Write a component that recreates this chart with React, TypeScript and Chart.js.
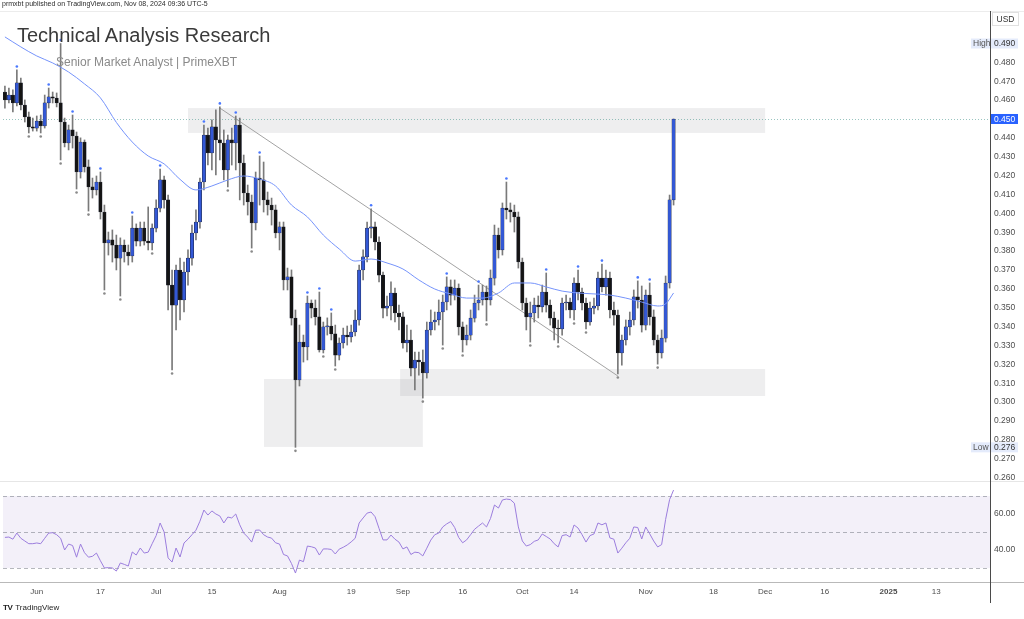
import React, { useEffect, useRef } from "react";
import { Chart, registerables } from "chart.js";

Chart.register(...registerables);

const FONT = '"Liberation Sans", Arial, sans-serif';

// ---- Daily candles, May 24 2024 (index 0) .. Nov 08 2024 (index 168) ----
const FIRST_OPEN = 0.4643;
const CLOSE = [
  0.4601, 0.4627, 0.4585, 0.4691, 0.4574, 0.4511, 0.4458, 0.4452, 0.4489, 0.4463,
  0.4585, 0.4617, 0.4611, 0.4585, 0.4484, 0.4373, 0.4442, 0.441, 0.4219, 0.4378,
  0.4246, 0.414, 0.4124, 0.4166, 0.4007, 0.3843, 0.3859, 0.3832, 0.3763, 0.3832,
  0.3795, 0.3774, 0.3922, 0.3853, 0.3922, 0.3853, 0.3843, 0.3922, 0.4028, 0.4177,
  0.4071, 0.362, 0.3514, 0.37, 0.3541, 0.3689, 0.3763, 0.3896, 0.3954, 0.4166,
  0.4415, 0.432, 0.4458, 0.4389, 0.4373, 0.423, 0.4389, 0.4373, 0.4468, 0.4267,
  0.4108, 0.406, 0.3949, 0.4187, 0.4177, 0.4071, 0.4044, 0.4018, 0.3896, 0.3928,
  0.3647, 0.3663, 0.3445, 0.3117, 0.3318, 0.3292, 0.3525, 0.3498, 0.3451, 0.3276,
  0.3398, 0.3403, 0.3361, 0.3249, 0.3313, 0.3355, 0.3345, 0.3371, 0.3435, 0.37,
  0.3769, 0.3922, 0.3928, 0.3848, 0.3673, 0.3498, 0.3509, 0.3578, 0.3472, 0.3451,
  0.3313, 0.3329, 0.318, 0.3223, 0.3212, 0.3154, 0.3382, 0.3424, 0.3435, 0.3477,
  0.353, 0.361, 0.3567, 0.3604, 0.3398, 0.3329, 0.3355, 0.3445, 0.3525, 0.3541,
  0.3583, 0.3541, 0.3657, 0.3885, 0.3806, 0.4028, 0.4018, 0.4007, 0.3981, 0.3742,
  0.3525, 0.3451, 0.3472, 0.3514, 0.3504, 0.3583, 0.3514, 0.3445, 0.3392, 0.3387,
  0.3525, 0.353, 0.3488, 0.3631, 0.3583, 0.3525, 0.3424, 0.3498, 0.3509, 0.3657,
  0.361, 0.3657, 0.3488, 0.3461, 0.326, 0.3329, 0.3398, 0.3435, 0.3557, 0.3541,
  0.3408, 0.3567, 0.3451, 0.3329, 0.326, 0.3339, 0.3631, 0.4071, 0.45,
];
const HIGH = [
  0.4675, 0.4664, 0.4654, 0.476, 0.4717, 0.4601, 0.4537, 0.4505, 0.4516, 0.4521,
  0.4627, 0.4664, 0.4643, 0.4638, 0.49, 0.4505, 0.4468, 0.4521, 0.4431, 0.44,
  0.4389, 0.4283, 0.4187, 0.4198, 0.4219, 0.4044, 0.3901, 0.3912, 0.3885, 0.387,
  0.3859, 0.3832, 0.3986, 0.3944, 0.3954, 0.3954, 0.4034, 0.3944, 0.4071, 0.4235,
  0.4198, 0.4097, 0.37, 0.3726, 0.3763, 0.3742, 0.3806, 0.3938, 0.4018, 0.4187,
  0.4468, 0.4452, 0.4495, 0.4548, 0.4564, 0.4442, 0.4415, 0.4452, 0.4516, 0.4505,
  0.4309, 0.415, 0.4097, 0.4219, 0.4304, 0.4272, 0.4113, 0.4081, 0.4044, 0.3954,
  0.3954, 0.371, 0.37, 0.3488, 0.3408, 0.3355, 0.3562, 0.3541, 0.3541, 0.3583,
  0.3424, 0.3446, 0.3472, 0.3408, 0.334, 0.3392, 0.3403, 0.3408, 0.3488, 0.3726,
  0.3806, 0.3954, 0.4024, 0.3954, 0.3875, 0.3689, 0.3562, 0.3637, 0.3604, 0.3514,
  0.3477, 0.3408, 0.3382, 0.3265, 0.3265, 0.3276, 0.3424, 0.3488, 0.3477, 0.3541,
  0.3567, 0.3663, 0.3647, 0.3647, 0.3626, 0.3424, 0.3408, 0.3488, 0.3567, 0.362,
  0.362, 0.3615, 0.37, 0.3938, 0.3922, 0.4055, 0.4166, 0.4055, 0.4044, 0.4007,
  0.3763, 0.3551, 0.353, 0.3551, 0.3562, 0.362, 0.3684, 0.3541, 0.3477, 0.3435,
  0.3551, 0.3567, 0.3551, 0.3658, 0.37, 0.3604, 0.3551, 0.353, 0.3551, 0.3689,
  0.3731, 0.37, 0.3689, 0.353, 0.3488, 0.3355, 0.3435, 0.3477, 0.3594, 0.3642,
  0.3615, 0.3594, 0.3631, 0.3488, 0.3355, 0.3382, 0.3668, 0.4097, 0.45,
];
const LOW = [
  0.4558, 0.4585, 0.4537, 0.4569, 0.4548, 0.4484, 0.4426, 0.4436, 0.4436, 0.4426,
  0.4452, 0.4558, 0.4585, 0.4564, 0.4283, 0.4352, 0.4336, 0.4346, 0.4129, 0.4187,
  0.4219, 0.4012, 0.4081, 0.4097, 0.397, 0.3594, 0.3779, 0.3742, 0.37, 0.3562,
  0.3742, 0.3726, 0.3742, 0.3827, 0.3827, 0.3832, 0.3806, 0.3806, 0.3901, 0.4007,
  0.4028, 0.3488, 0.317, 0.3382, 0.3435, 0.3477, 0.362, 0.3726, 0.3859, 0.3922,
  0.4124, 0.4256, 0.423, 0.4203, 0.4283, 0.4177, 0.414, 0.4256, 0.423, 0.4071,
  0.4044, 0.3991, 0.3816, 0.3912, 0.4044, 0.4007, 0.3991, 0.3938, 0.387, 0.3806,
  0.3594, 0.3594, 0.3408, 0.276, 0.3085, 0.3212, 0.3223, 0.3446, 0.3408, 0.3265,
  0.326, 0.3355, 0.3329, 0.3191, 0.3223, 0.3286, 0.3302, 0.3318, 0.335, 0.3408,
  0.3647, 0.3742, 0.387, 0.3806, 0.3637, 0.3446, 0.3456, 0.3435, 0.3424, 0.3382,
  0.3286, 0.3265, 0.3138, 0.3064, 0.3143, 0.3021, 0.3127, 0.3355, 0.3382, 0.3408,
  0.3302, 0.3488, 0.3514, 0.3541, 0.3355, 0.3265, 0.3302, 0.3329, 0.3424, 0.3488,
  0.3514, 0.343, 0.3514, 0.362, 0.3763, 0.3779, 0.397, 0.3954, 0.3901, 0.371,
  0.3488, 0.3382, 0.3318, 0.3424, 0.3446, 0.3477, 0.3477, 0.3408, 0.3329, 0.3313,
  0.3355, 0.3488, 0.3446, 0.3435, 0.3541, 0.3488, 0.3387, 0.3408, 0.3467, 0.3488,
  0.3583, 0.3567, 0.3446, 0.3408, 0.3149, 0.3196, 0.3302, 0.3355, 0.3408, 0.3498,
  0.3371, 0.3382, 0.3408, 0.3302, 0.3201, 0.3233, 0.3318, 0.3604, 0.4044,
];

// Fractal markers (candle indices)
const HIGH_MARKS = [3, 11, 14, 17, 24, 32, 39, 50, 54, 58, 64, 76, 79, 82, 92, 111, 119, 126, 136, 144, 150, 159, 162];
const LOW_MARKS = [6, 9, 14, 18, 21, 25, 29, 37, 42, 56, 62, 73, 80, 83, 105, 110, 115, 121, 132, 139, 143, 146, 154, 164];

// Moving average (read at candle indices)
const MA_IDX = [0, 4, 8, 12, 16, 20, 24, 28, 32, 36, 40, 44, 48, 52, 56, 60, 64, 68, 72, 76, 80, 84, 88, 92, 96, 100, 104, 108, 112, 116, 120, 124, 128, 132, 136, 140, 144, 148, 152, 156, 160, 164, 166, 168];
const MA_VAL = [0.4935, 0.4882, 0.4834, 0.4797, 0.4749, 0.4686, 0.4612, 0.4482, 0.4378, 0.4304, 0.4262, 0.418, 0.4124, 0.4145, 0.4177, 0.4198, 0.4182, 0.4145, 0.4044, 0.3981, 0.3885, 0.3811, 0.3747, 0.3758, 0.3737, 0.3705, 0.3647, 0.3599, 0.3573, 0.3551, 0.3551, 0.3578, 0.3631, 0.3631, 0.361, 0.3588, 0.3578, 0.3573, 0.3567, 0.3551, 0.353, 0.3509, 0.352, 0.3578];

// RSI per candle
const RSI = [
  47.0, 47.2, 46.0, 49.4, 46.5, 45.0, 43.5, 43.5, 43.9, 43.5,
  46.5, 49.4, 49.6, 48.5, 46.5, 40.0, 43.3, 42.5, 36.0, 43.3,
  38.5, 36.0, 36.5, 38.3, 34.0, 30.0, 30.2, 30.0, 28.3, 32.8,
  32.0, 31.1, 38.9, 37.2, 41.1, 38.3, 38.8, 43.5, 48.0, 55.0,
  50.0, 35.6, 33.3, 41.1, 36.1, 43.9, 46.0, 48.5, 51.0, 56.0,
  62.2, 59.4, 61.7, 60.0, 58.9, 55.0, 58.3, 57.8, 60.0, 54.0,
  49.4, 47.2, 44.4, 51.0, 51.1, 48.5, 47.2, 46.6, 44.0, 43.3,
  37.5, 36.7, 32.5, 27.2, 34.4, 33.5, 42.2, 41.8, 41.1, 37.2,
  40.6, 40.6, 40.3, 37.8, 40.5, 41.5, 42.8, 44.5, 46.5, 55.0,
  57.8, 60.5, 61.1, 58.5, 52.0, 45.6, 45.6, 48.3, 46.0, 44.4,
  40.6, 41.7, 37.5, 38.8, 38.5, 36.7, 41.0, 45.5, 48.5, 49.4,
  52.8, 54.5, 55.8, 52.5, 47.0, 44.0, 45.6, 48.5, 51.5, 53.3,
  55.0, 52.8, 57.5, 65.0, 63.3, 67.8, 68.3, 68.0, 66.0, 52.8,
  45.0, 42.2, 43.0, 44.8, 45.6, 48.9, 47.5, 46.1, 43.5, 41.7,
  48.0, 48.5, 47.2, 53.9, 52.2, 48.5, 44.4, 48.0, 48.9, 55.0,
  54.0, 55.0, 46.7, 46.0, 38.3, 41.0, 44.0, 46.5, 52.8, 52.5,
  46.1, 52.8, 49.0, 45.0, 41.7, 43.0, 57.0, 68.0, 73.3,
];

// Axis ticks
const PRICE_TICKS = [0.26, 0.27, 0.28, 0.29, 0.3, 0.31, 0.32, 0.33, 0.34, 0.35, 0.36, 0.37, 0.38, 0.39, 0.4, 0.41, 0.42, 0.43, 0.44, 0.45, 0.46, 0.47, 0.48, 0.49];
const RSI_TICKS = [40, 60];
const RSI_LEVELS = [70, 50, 30];
const RSI_BAND = [30, 70];
const DATE_TICK_POS = [8, 24, 38, 52, 69, 87, 100, 115, 130, 143, 161, 178, 191, 206, 222, 234];
const DATE_TICK_LABELS = ["Jun", "17", "Jul", "15", "Aug", "19", "Sep", "16", "Oct", "14", "Nov", "18", "Dec", "16", "2025", "13"];

// Drawn zones [fromIndex, toIndex, lowPrice, highPrice]
const ZONES = [
  [46, 191, 0.4426, 0.4558],
  [65.1, 105, 0.2762, 0.3122],
  [99.3, 191, 0.3032, 0.3175],
];
const TREND_X = [54, 154];
const TREND_Y = [0.4558, 0.3138];
const LAST_PRICE = 0.45;
const HIGH_VALUE = 0.49;
const LOW_VALUE = 0.276;

const X_MIN = -0.48;
const X_MAX = 247.5;
const P_MIN = 0.25816;
const P_MAX = 0.5067;
const R_MIN = 22.22;
const R_MAX = 78.33;

const OPEN = [FIRST_OPEN, ...CLOSE.slice(0, -1)];
const UP = "#3358d6";
const DOWN = "#141414";

const noPad = (s: any) => {
  s.paddingTop = 0;
  s.paddingBottom = 0;
};

const mainPlugin = {
  id: "mainDecor",
  beforeDatasetsDraw(chart: any) {
    const { ctx, chartArea, scales } = chart;
    const x = scales.x, y = scales.y;
    ctx.save();
    ctx.beginPath();
    ctx.rect(chartArea.left, chartArea.top, chartArea.right - chartArea.left, chartArea.bottom - chartArea.top);
    ctx.clip();
    ctx.fillStyle = "rgba(120,123,134,0.13)";
    ZONES.forEach(([a, b, lo, hi]) => {
      const x0 = x.getPixelForValue(a), x1 = x.getPixelForValue(b);
      const y0 = y.getPixelForValue(hi), y1 = y.getPixelForValue(lo);
      ctx.fillRect(x0, y0, x1 - x0, y1 - y0);
    });
    const py = Math.round(y.getPixelForValue(LAST_PRICE)) + 0.5;
    ctx.strokeStyle = "rgba(70,150,140,0.55)";
    ctx.lineWidth = 1;
    ctx.setLineDash([1, 2]);
    ctx.beginPath();
    ctx.moveTo(chartArea.left, py);
    ctx.lineTo(chartArea.right, py);
    ctx.stroke();
    ctx.restore();
  },
  afterDatasetsDraw(chart: any) {
    const { ctx, scales } = chart;
    const x = scales.x, y = scales.y;
    ctx.save();
    ctx.fillStyle = "#4a78ff";
    HIGH_MARKS.forEach((i) => {
      ctx.beginPath();
      ctx.arc(x.getPixelForValue(i), y.getPixelForValue(HIGH[i]) - 3.5, 1.3, 0, Math.PI * 2);
      ctx.fill();
    });
    ctx.fillStyle = "#8a8a8a";
    LOW_MARKS.forEach((i) => {
      ctx.beginPath();
      ctx.arc(x.getPixelForValue(i), y.getPixelForValue(LOW[i]) + 3.5, 1.3, 0, Math.PI * 2);
      ctx.fill();
    });
    ctx.restore();
  },
  afterDraw(chart: any) {
    const { ctx, scales, chartArea } = chart;
    const y = scales.y;
    const r = chartArea.right;
    ctx.save();
    ctx.font = `8.5px ${FONT}`;
    ctx.textBaseline = "middle";
    ctx.textAlign = "left";
    const tag = (value: number, word: string | null, bg: string, fg: string, wordColor: string) => {
      const py = y.getPixelForValue(value);
      const left = word ? r - 19 : r + 1;
      ctx.fillStyle = bg;
      ctx.fillRect(left, py - 5, r + 28 - left, 10);
      if (word) {
        ctx.fillStyle = wordColor;
        ctx.fillText(word, r - 17, py + 0.5);
      }
      ctx.fillStyle = fg;
      ctx.fillText(value.toFixed(3), r + 4, py + 0.5);
    };
    tag(HIGH_VALUE, "High", "#e4ebfb", "#333", "#555");
    tag(LOW_VALUE, "Low", "#e4ebfb", "#333", "#555");
    tag(LAST_PRICE, null, "#2962ff", "#fff", "#fff");
    ctx.strokeStyle = "#e0e0e0";
    ctx.lineWidth = 1;
    ctx.strokeRect(r + 2.5, 12.5, 26, 13);
    ctx.fillStyle = "#333";
    ctx.textAlign = "center";
    ctx.fillText("USD", r + 15.5, 19.5);
    ctx.restore();
  },
};

const rsiPlugin = {
  id: "rsiDecor",
  beforeDatasetsDraw(chart: any) {
    const { ctx, chartArea, scales } = chart;
    const y = scales.y;
    ctx.save();
    const yTop = y.getPixelForValue(RSI_BAND[1]);
    const yBot = y.getPixelForValue(RSI_BAND[0]);
    ctx.fillStyle = "rgba(126,87,194,0.09)";
    ctx.fillRect(chartArea.left, yTop, chartArea.right - chartArea.left, yBot - yTop);
    ctx.strokeStyle = "rgba(120,123,134,0.55)";
    ctx.lineWidth = 1;
    ctx.setLineDash([4, 3]);
    RSI_LEVELS.forEach((lv) => {
      const py = Math.round(y.getPixelForValue(lv)) + 0.5;
      ctx.beginPath();
      ctx.moveTo(chartArea.left, py);
      ctx.lineTo(chartArea.right, py);
      ctx.stroke();
    });
    ctx.restore();
  },
};

export default function App() {
  const mainRef = useRef<HTMLCanvasElement>(null);
  const rsiRef = useRef<HTMLCanvasElement>(null);

  useEffect(() => {
    const main = new Chart(mainRef.current as HTMLCanvasElement, {
      type: "bar",
      data: {
        datasets: [
          {
            type: "line",
            data: TREND_X.map((x, k) => ({ x, y: TREND_Y[k] })),
            borderColor: "#a3a3a3",
            borderWidth: 1,
            pointRadius: 0,
            order: 6,
          } as any,
          {
            type: "bar",
            data: HIGH.map((h, i) => ({ x: i, y: [LOW[i], h] })),
            backgroundColor: "#7a7a7a",
            barThickness: 1,
            grouped: false,
            order: 5,
          } as any,
          {
            type: "bar",
            data: CLOSE.map((c, i) => ({ x: i, y: [OPEN[i], c] })),
            backgroundColor: CLOSE.map((c, i) => (c >= OPEN[i] ? UP : DOWN)),
            borderColor: "#1e2233",
            borderWidth: 0.5,
            borderSkipped: false,
            barThickness: 3.4,
            minBarLength: 1,
            grouped: false,
            order: 4,
          } as any,
          {
            type: "line",
            data: MA_IDX.map((x, k) => ({ x, y: MA_VAL[k] })),
            borderColor: "#7593fb",
            borderWidth: 1,
            pointRadius: 0,
            cubicInterpolationMode: "monotone",
            order: 3,
          } as any,
        ],
      },
      options: {
        animation: false,
        responsive: false,
        devicePixelRatio: 1,
        layout: { padding: { left: 3, right: 0, top: 12, bottom: 0 } },
        plugins: { legend: { display: false }, tooltip: { enabled: false } },
        scales: {
          x: { type: "linear", min: X_MIN, max: X_MAX, offset: false, display: false },
          y: {
            type: "linear",
            position: "right",
            min: P_MIN,
            max: P_MAX,
            grid: { display: false, drawTicks: false },
            border: { display: false },
            ticks: {
              autoSkip: false,
              padding: 4,
              color: "#4d4d4d",
              font: { size: 8.5, family: FONT },
              callback: (v: any) => Number(v).toFixed(3),
            },
            afterBuildTicks: (s: any) => {
              s.ticks = PRICE_TICKS.map((v) => ({ value: v }));
            },
            afterFit: (s: any) => {
              s.width = 34;
              noPad(s);
            },
          },
        },
      } as any,
      plugins: [mainPlugin],
    });

    const rsi = new Chart(rsiRef.current as HTMLCanvasElement, {
      type: "line",
      data: {
        datasets: [
          {
            data: RSI.map((r, i) => ({ x: i, y: r })),
            borderColor: "#9b7ddd",
            borderWidth: 1,
            pointRadius: 0,
          },
        ],
      },
      options: {
        animation: false,
        responsive: false,
        devicePixelRatio: 1,
        layout: { padding: { left: 3, right: 0, top: 0, bottom: 0 } },
        plugins: { legend: { display: false }, tooltip: { enabled: false } },
        scales: {
          x: {
            type: "linear",
            min: X_MIN,
            max: X_MAX,
            grid: { display: false, drawTicks: false },
            border: { display: false },
            ticks: {
              autoSkip: false,
              maxRotation: 0,
              padding: 5,
              color: "#4d4d4d",
              font: (ctx: any) => ({
                size: 8,
                family: FONT,
                weight: ctx.tick && ctx.tick.label === "2025" ? "bold" : "normal",
              }),
              callback: (v: any) => {
                const k = DATE_TICK_POS.indexOf(Number(v));
                return k >= 0 ? DATE_TICK_LABELS[k] : "";
              },
            },
            afterBuildTicks: (s: any) => {
              s.ticks = DATE_TICK_POS.map((v) => ({ value: v }));
            },
            afterFit: (s: any) => {
              s.height = 24;
              s.paddingLeft = 0;
              s.paddingRight = 0;
            },
          },
          y: {
            type: "linear",
            position: "right",
            min: R_MIN,
            max: R_MAX,
            grid: { display: false, drawTicks: false },
            border: { display: false },
            ticks: {
              autoSkip: false,
              padding: 4,
              color: "#4d4d4d",
              font: { size: 8.5, family: FONT },
              callback: (v: any) => Number(v).toFixed(2),
            },
            afterBuildTicks: (s: any) => {
              s.ticks = RSI_TICKS.map((v) => ({ value: v }));
            },
            afterFit: (s: any) => {
              s.width = 34;
              noPad(s);
            },
          },
        },
      } as any,
      plugins: [rsiPlugin],
    });

    return () => {
      main.destroy();
      rsi.destroy();
    };
  }, []);

  const line = (style: React.CSSProperties) => <div style={{ position: "absolute", ...style }} />;

  return (
    <div
      style={{
        position: "absolute",
        left: 0,
        top: 0,
        width: 1024,
        height: 619,
        background: "#fff",
        overflow: "hidden",
        fontFamily: FONT,
      }}
    >
      <canvas
        ref={mainRef}
        width={1024}
        height={481}
        style={{ position: "absolute", left: 0, top: 0, width: 1024, height: 481 }}
      />
      <canvas
        ref={rsiRef}
        width={1024}
        height={125}
        style={{ position: "absolute", left: 0, top: 481, width: 1024, height: 125 }}
      />
      {line({ left: 0, top: 11, width: 1024, height: 1, background: "#ececec" })}
      {line({ left: 0, top: 481, width: 1024, height: 1, background: "#e6e6e6" })}
      {line({ left: 0, top: 582, width: 1024, height: 1, background: "#b9b9b9" })}
      {line({ left: 990, top: 11, width: 1, height: 592, background: "#4a4a4a" })}
      <div style={{ position: "absolute", left: 2, top: 0, fontSize: 7, color: "#2a2a2a", whiteSpace: "nowrap" }}>
        prmxbt published on TradingView.com, Nov 08, 2024 09:36 UTC-5
      </div>
      <div style={{ position: "absolute", left: 17, top: 25, fontSize: 20, color: "#3a3a3a", whiteSpace: "nowrap", lineHeight: 1 }}>
        Technical Analysis Research
      </div>
      <div style={{ position: "absolute", left: 56, top: 56, fontSize: 12, color: "#8a8a8a", whiteSpace: "nowrap", lineHeight: 1 }}>
        Senior Market Analyst | PrimeXBT
      </div>
      <div style={{ position: "absolute", left: 3, top: 604, fontSize: 8, color: "#222", whiteSpace: "nowrap", lineHeight: 1 }}>
        <span style={{ fontWeight: 900, letterSpacing: -0.5, marginRight: 3 }}>TV</span>TradingView
      </div>
    </div>
  );
}
